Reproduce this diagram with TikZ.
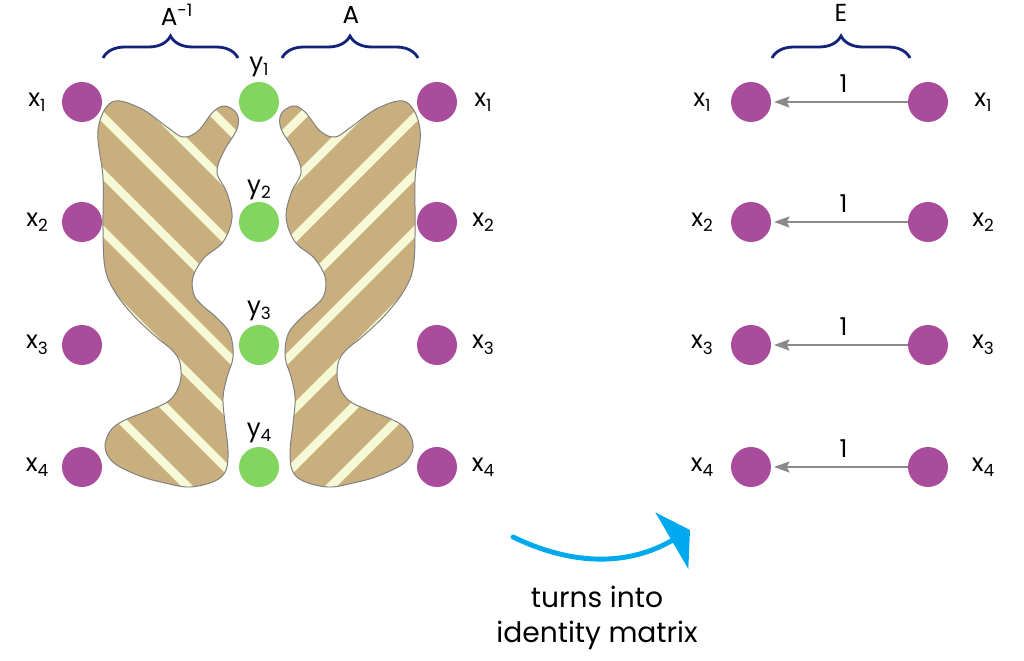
\documentclass[tikz,border=0pt]{standalone}
\usepackage{fontspec}
\setmainfont{Poppins}
\usetikzlibrary{arrows.meta,decorations.pathreplacing}

\definecolor{dotpurple}{HTML}{A94C9B}
\definecolor{dotgreen}{HTML}{82D65F}
\definecolor{blobtan}{HTML}{C9AE7E}
\definecolor{stripeyellow}{HTML}{F5F9D5}
\definecolor{bracenavy}{HTML}{14237A}
\definecolor{turnblue}{HTML}{00A9EE}
\definecolor{linegrey}{HTML}{8A8A8A}

\newcommand{\lowidx}[1]{\raisebox{-0.22em}{\fontsize{12}{12}\selectfont #1}}
\newcommand{\blobpath}{plot[smooth cycle, tension=0.6] coordinates {
    (112,102) (140,108) (167,127) (183,137) (198,131) (213,112) (225,106)
    (237,114) (237,129) (224,151) (217,172) (227,193) (232,218) (223,242)
    (204,258) (193,277) (194,295) (203,306) (217,318) (230,334) (233,357)
    (227,377) (223,398) (225,423) (228,450) (226,470) (215,481) (190,487)
    (165,483) (140,476) (114,463) (105,447) (111,430) (125,420) (150,410)
    (170,400) (180,383) (180,363) (172,350) (155,336) (133,315) (115,292)
    (105,268) (103,228) (103,178) (98,130)}}

\begin{document}
\begin{tikzpicture}[x=0.025cm, y=-0.025cm,
        every node/.style={font=\fontsize{17.5}{20}\selectfont},
        dot/.style={circle, minimum size=1cm, inner sep=0pt},
        xdot/.style={dot, fill=dotpurple},
        ydot/.style={dot, fill=dotgreen},
        stripe/.style={stripeyellow, line width=6pt},
        blobline/.style={draw=gray, line width=0.7pt},
        curly/.style={draw=bracenavy, line width=2pt,
            decorate, decoration={brace, amplitude=0.55cm}},
        onearrow/.style={draw=linegrey, line width=1pt,
            -{Stealth[length=11pt, width=8pt, inset=2pt]}, shorten >=2pt},
        turnarrow/.style={draw=turnblue, line width=3.5pt, line cap=round,
            -{Triangle[length=15pt, width=46pt]}}]

    \useasboundingbox (0,0) rectangle (1024,661);

    % Left blob (A^-1)
    \begin{scope}
        \clip \blobpath;
        \fill[blobtan] (0,0) rectangle (520,661);
        \foreach \c in {-100,-43,...,299}
            \draw[stripe] (0,\c) -- (500,500+\c);
    \end{scope}
    \draw[blobline] \blobpath;

    % Right blob (A), mirrored
    \begin{scope}[xshift=12.95cm, x=-0.025cm]
        \begin{scope}
            \clip \blobpath;
            \fill[blobtan] (0,0) rectangle (520,661);
            \foreach \c in {-100,-43,...,299}
                \draw[stripe] (0,\c) -- (500,500+\c);
        \end{scope}
        \draw[blobline] \blobpath;
    \end{scope}

    % Nodes and labels
    \foreach \i/\yy/\ly in {1/102/67, 2/222/190, 3/345/311, 4/467/433} {
        \node[xdot] (l\i) at (82,\yy) {};
        \node[ydot] (y\i) at (259,\yy) {};
        \node[xdot] (r\i) at (437,\yy) {};
        \node (lx\i) at (37,\yy) {x\lowidx{\i}};
        \node (ly\i) at (259,\ly) {y\lowidx{\i}};
        \node (rx\i) at (483,\yy) {x\lowidx{\i}};
        % identity side
        \node[xdot] (el\i) at (751,\yy) {};
        \node[xdot] (er\i) at (928,\yy) {};
        \node (elx\i) at (702,\yy) {x\lowidx{\i}};
        \node (erx\i) at (983,\yy) {x\lowidx{\i}};
        \draw[onearrow] (er\i) -- node[above=3pt, pos=0.47] {1} (el\i);
    }

    % Braces
    \draw[curly] (103,58) -- (238,58);
    \draw[curly] (282,58) -- (418,58);
    \draw[curly] (772,58) -- (910,58);
    \node (ainv) at (177,15) {A\textsuperscript{-1}};
    \node (amat) at (351,15) {A};
    \node (emat) at (841,13) {E};

    % Turning arrow
    \coordinate (turnS) at (513,537);
    \coordinate (turnE) at (690,530);
    \draw[turnarrow] (turnS) to[bend right=28] (turnE);
    \node[align=center, font=\fontsize{20}{24.5}\selectfont] (caption) at (597,618)
        {turns into\\identity matrix};
\end{tikzpicture}
\end{document}
